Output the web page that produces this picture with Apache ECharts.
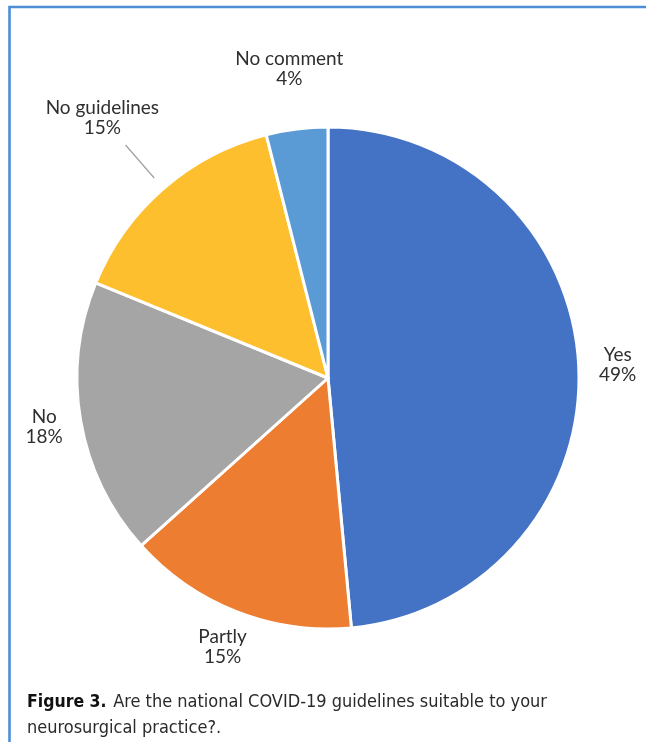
<!DOCTYPE html>
<html>
<head>
<meta charset="utf-8">
<script src="https://cdn.jsdelivr.net/npm/echarts@6/dist/echarts.min.js"></script>
<style>
  html, body { margin: 0; padding: 0; background: #ffffff; }
  #chart { width: 646px; height: 742px; }
</style>
</head>
<body>
<div id="chart"></div>
<script>
// Survey answers: share of respondents per answer (percent)
const categories = ['Yes', 'Partly', 'No', 'No guidelines', 'No comment'];
const shares = [49, 15, 18, 15, 4];
const sliceColors = ['#4472c4', '#ed7d31', '#a5a5a5', '#fdbf2d', '#5b9bd5'];

// How far each outside label sits from the rim (radial, then horizontal)
const labelReach = [30, 38, 37, 93, 61];
const labelShift = [9, 0, 0, 0, 0];
const guideIndex = categories.indexOf('No guidelines');

const captionBold = 'Figure 3.';
const captionText = 'Are the national COVID-19 guidelines suitable to your';
const captionText2 = 'neurosurgical practice?.';

const pieData = categories.map((name, i) => ({
  name: name,
  value: shares[i],
  itemStyle: { color: sliceColors[i] },
  labelLine: {
    show: i === guideIndex,
    length: labelReach[i],
    length2: labelShift[i]
  }
}));

const chart = echarts.init(document.getElementById('chart'), null, { renderer: 'canvas' });

const captionFont = '"Liberation Sans Narrow", "DejaVu Sans Condensed", sans-serif';

chart.setOption({
  backgroundColor: '#ffffff',
  animation: false,
  graphic: [
    {
      type: 'polyline',
      shape: { points: [[9.5, 742], [9.5, 7], [646, 7]] },
      style: { stroke: '#4d8fd6', lineWidth: 2.6, fill: null }
    },
    {
      type: 'text',
      left: 27,
      top: 693,
      style: {
        text: '{b|' + captionBold + '}  {r|' + captionText + '}\n{r|' + captionText2 + '}',
        rich: {
          b: { fontFamily: captionFont, fontWeight: 'bold', fontSize: 17.5, fill: '#111111', lineHeight: 26 },
          r: { fontFamily: captionFont, fontSize: 18, fill: '#2a2a2a', lineHeight: 26 }
        }
      }
    }
  ],
  series: [
    {
      type: 'pie',
      center: [328, 378],
      radius: 251,
      startAngle: 90,
      clockwise: true,
      avoidLabelOverlap: false,
      data: pieData,
      itemStyle: { borderColor: '#ffffff', borderWidth: 3 },
      label: {
        show: true,
        position: 'outside',
        alignTo: 'none',
        distanceToLabelLine: 0,
        formatter: '{t|{b}}\n{t|{c}%}',
        rich: {
          t: {
            align: 'center',
            fontFamily: 'Lato, "Open Sans", sans-serif',
            fontSize: 19,
            lineHeight: 20,
            color: '#2f2f2f'
          }
        }
      },
      labelLine: {
        lineStyle: { color: '#a0a0a0', width: 1.2 }
      },
      labelLayout: function (p) {
        const out = { align: 'center' };
        if (p.dataIndex === guideIndex && p.labelLinePoints) {
          const a = p.labelLinePoints[0];
          const b = p.labelLinePoints[1];
          const at = function (t) { return [a[0] + (b[0] - a[0]) * t, a[1] + (b[1] - a[1]) * t]; };
          out.labelLinePoints = [at(0.15), at(0.62), at(0.62)];
        }
        return out;
      },
      emphasis: { disabled: true }
    }
  ]
});
</script>
</body>
</html>
